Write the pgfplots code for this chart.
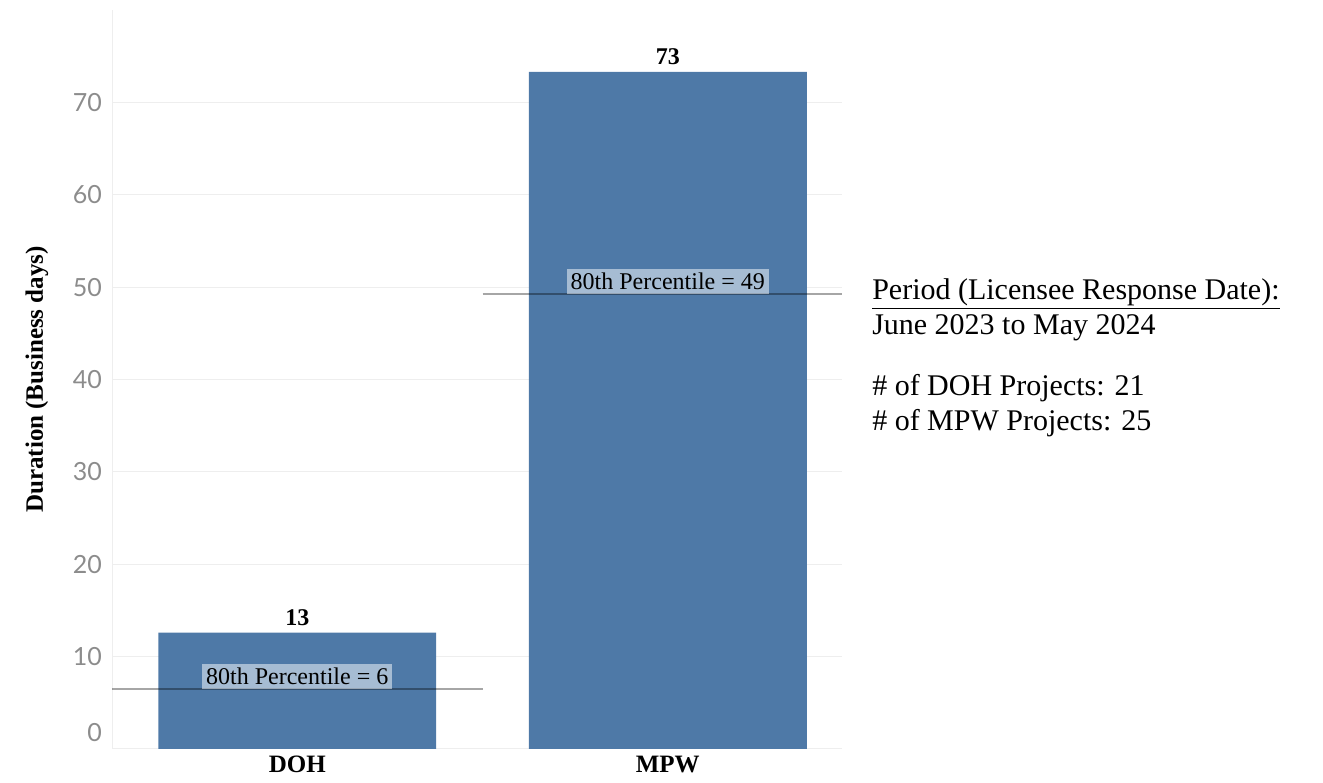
\documentclass[border=0pt]{standalone}
\usepackage{fontspec}
\setmainfont{Liberation Serif}
\newfontfamily\tickfont{Lato}
\usepackage{pgfplots}
\pgfplotsset{compat=1.18}
\definecolor{barblue}{RGB}{78,121,167}
\definecolor{tickgray}{RGB}{140,140,140}
\definecolor{gridgray}{RGB}{238,238,238}

\begin{document}
\begin{tikzpicture}
\begin{axis}[
    scale only axis,
    width=365pt, height=369.5pt,
    xmin=-0.5, xmax=1.47, ymin=0, ymax=80,
    clip=false,
    axis x line*=bottom, axis y line*=left,
    x axis line style={draw=none},
    y axis line style={gridgray},
    xtick={0,1}, xticklabels={DOH,MPW},
    xticklabel style={font=\bfseries\fontsize{12.5}{14}\selectfont, inner sep=1pt, text depth=0pt, yshift=-2.5pt},
    major x tick style={draw=none},
    extra x ticks={-0.5,0.5}, extra x tick labels={},
    extra x tick style={tick align=outside, major tick length=3pt, major tick style={gridgray, draw=gridgray}},
    ytick={10,20,...,70},
    extra y ticks={0},
    extra y tick style={yticklabel style={yshift=8pt}},
    ymajorgrids,
    major grid style={gridgray, line width=0.5pt},
    major y tick style={draw=none},
    yticklabel style={font=\tickfont\fontsize{12.5}{14}\selectfont, text=tickgray, xshift=-1.5pt},
    /pgf/number format/assume math mode=true,
    ylabel={Duration (Business days)},
    ylabel style={at={(axis description cs:-0.103,0.5)}, anchor=center, font=\bfseries\fontsize{12.5}{14}\selectfont},
]

\addplot[ybar, bar width=0.75, fill=barblue, draw=none,
    point meta=explicit symbolic,
    nodes near coords,
    nodes near coords style={font=\bfseries\fontsize{12}{14}\selectfont, text=black}]
    coordinates {(0,12.6) [13] (1,73.3) [73]};

\addplot[black, opacity=0.35, line width=1pt] coordinates {(-0.5,6.5) (0.5,6.5)};
\addplot[black, opacity=0.35, line width=1pt] coordinates {(0.5,49.2) (1.47,49.2)};

\node[fill=white, fill opacity=0.5, text opacity=1, anchor=south, inner sep=2pt,
    font=\fontsize{12}{14}\selectfont] at (axis cs:0,6.5) {80th Percentile = 6};
\node[fill=white, fill opacity=0.5, text opacity=1, anchor=south, inner sep=2pt,
    font=\fontsize{12}{14}\selectfont] at (axis cs:1,49.2) {80th Percentile = 49};

\node[anchor=north west, align=left, inner sep=0pt,
    font=\fontsize{15}{17.5}\selectfont] at (rel axis cs:1.041,0.637)
    {\underline{Period (Licensee Response Date):}\\June 2023 to May 2024\\[13pt]\# of DOH Projects: 21\\\# of MPW Projects: 25};

\path (rel axis cs:-0.1534,1.0135) rectangle (rel axis cs:1.659,-0.046);
\end{axis}
\end{tikzpicture}
\end{document}
